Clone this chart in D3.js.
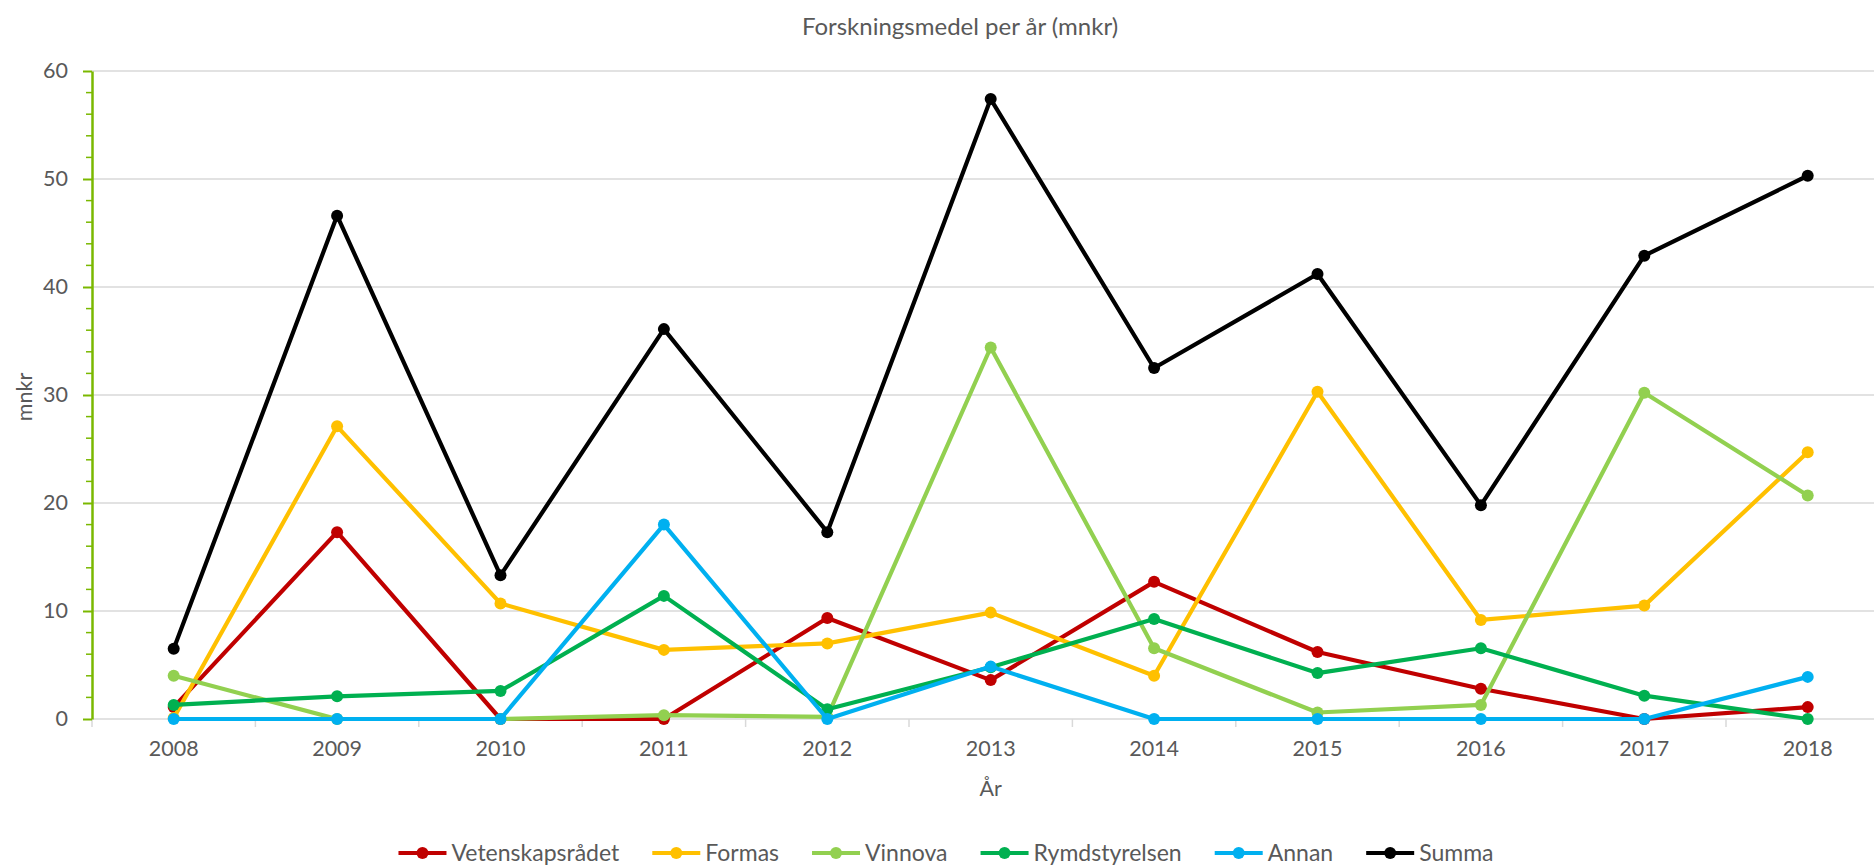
<!DOCTYPE html>
<html>
<head>
<meta charset="utf-8">
<script src="https://cdn.jsdelivr.net/npm/d3@7"></script>
<style>
  html, body { margin: 0; padding: 0; background: #fff; }
  svg { display: block; font-family: Lato, "Open Sans", sans-serif; }
</style>
</head>
<body>
<svg id="chart" width="1874" height="867"></svg>
<script>
const years = ["2008","2009","2010","2011","2012","2013","2014","2015","2016","2017","2018"];
const seriesNames = ["Vetenskapsrådet","Formas","Vinnova","Rymdstyrelsen","Annan","Summa"];
const seriesColors = ["#C00000","#FFC000","#92D050","#00B050","#00B0F0","#000000"];
const vetenskapsradet = [1.1, 17.3, 0, 0, 9.35, 3.6, 12.7, 6.2, 2.8, 0, 1.1];
const formas = [0.1, 27.1, 10.7, 6.4, 7.0, 9.85, 4.0, 30.3, 9.17, 10.5, 24.7];
const vinnova = [4.0, 0, 0, 0.35, 0.2, 34.4, 6.55, 0.6, 1.3, 30.2, 20.7];
const rymdstyrelsen = [1.3, 2.1, 2.6, 11.4, 0.9, 4.8, 9.26, 4.25, 6.55, 2.16, 0];
const annan = [0, 0, 0, 18.0, 0, 4.85, 0, 0, 0, 0, 3.9];
const summa = [6.5, 46.6, 13.3, 36.1, 17.3, 57.4, 32.5, 41.2, 19.8, 42.9, 50.3];
const yTicks = [0, 10, 20, 30, 40, 50, 60];
const titleText = "Forskningsmedel per år (mnkr)";
const xTitle = "År";
const yTitle = "mnkr";

const seriesValues = [vetenskapsradet, formas, vinnova, rymdstyrelsen, annan, summa];

const svg = d3.select("#chart");
const textColor = "#595959";
const gridColor = "#d9d9d9";
const axisGreen = "#7ab800";

const plotLeft = 92, plotRight = 1889.4, plotTop = 71, plotBottom = 719;
const x = d3.scaleBand().domain(years).range([plotLeft, plotRight]).padding(0);
const cx = d => x(d) + x.bandwidth() / 2;
const y = d3.scaleLinear().domain([0, 60]).range([plotBottom, plotTop]);

// gridlines
svg.append("g").selectAll("line").data(yTicks).join("line")
  .attr("x1", plotLeft).attr("x2", plotRight)
  .attr("y1", d => y(d)).attr("y2", d => y(d))
  .attr("stroke", gridColor).attr("stroke-width", 1.5);

// x axis boundary ticks
const bounds = years.map(d => x(d)).concat([plotRight]);
svg.append("g").selectAll("line").data(bounds).join("line")
  .attr("x1", d => d).attr("x2", d => d)
  .attr("y1", plotBottom).attr("y2", plotBottom + 8)
  .attr("stroke", gridColor).attr("stroke-width", 1.5);

// x labels
const xAxis = svg.append("g").attr("transform", `translate(0,${plotBottom})`)
  .call(d3.axisBottom(x).tickSize(0).tickPadding(22));
xAxis.select(".domain").remove();
xAxis.selectAll("text").attr("fill", textColor).attr("font-size", 21.5)
  .attr("font-family", "Lato, sans-serif");

// y axis
const minor = d3.range(0, 61, 2).filter(v => v % 10 !== 0);
svg.append("g").selectAll("line").data(minor).join("line")
  .attr("x1", plotLeft - 6).attr("x2", plotLeft)
  .attr("y1", d => y(d)).attr("y2", d => y(d))
  .attr("stroke", axisGreen).attr("stroke-width", 1.5);
const yAxis = svg.append("g").attr("transform", `translate(${plotLeft},0)`)
  .call(d3.axisLeft(y).tickValues(yTicks).tickSize(9).tickPadding(15).tickSizeOuter(0));
yAxis.select(".domain").attr("stroke", axisGreen).attr("stroke-width", 2.5);
yAxis.selectAll(".tick line").attr("stroke", axisGreen).attr("stroke-width", 2);
yAxis.selectAll("text").attr("fill", textColor).attr("font-size", 21.5)
  .attr("font-family", "Lato, sans-serif");

// lines
const line = d3.line().x((d, i) => cx(years[i])).y(d => y(d));
seriesValues.forEach((vals, si) => {
  const g = svg.append("g");
  g.append("path").datum(vals).attr("d", line)
    .attr("fill", "none").attr("stroke", seriesColors[si])
    .attr("stroke-width", 4.2).attr("stroke-linejoin", "round");
  g.selectAll("circle").data(vals).join("circle")
    .attr("cx", (d, i) => cx(years[i])).attr("cy", d => y(d)).attr("r", 6)
    .attr("fill", seriesColors[si]);
});

// title
svg.append("text").attr("x", 960).attr("y", 35).attr("text-anchor", "middle")
  .attr("fill", textColor).attr("font-size", 24).text(titleText);
// axis titles
svg.append("text").attr("x", (plotLeft + plotRight) / 2).attr("y", 796).attr("text-anchor", "middle")
  .attr("fill", textColor).attr("font-size", 21.5).text(xTitle);
svg.append("text").attr("transform", "translate(32,397) rotate(-90)").attr("text-anchor", "middle")
  .attr("fill", textColor).attr("font-size", 21.5).text(yTitle);

// legend
const leg = svg.append("g");
const items = seriesNames.map((n, i) => {
  const g = leg.append("g");
  g.append("line").attr("x1", 0).attr("x2", 48).attr("y1", 0).attr("y2", 0)
    .attr("stroke", seriesColors[i]).attr("stroke-width", 4.2);
  g.append("circle").attr("cx", 24).attr("cy", 0).attr("r", 6).attr("fill", seriesColors[i]);
  const t = g.append("text").attr("x", 53).attr("y", 8).attr("fill", textColor)
    .attr("font-size", 23).text(n);
  return { g, w: 53 + t.node().getComputedTextLength() };
});
const gap = 33;
const total = d3.sum(items, d => d.w) + gap * (items.length - 1);
let pos = 946 - total / 2;
items.forEach(it => { it.g.attr("transform", `translate(${pos},853)`); pos += it.w + gap; });
</script>
</body>
</html>
